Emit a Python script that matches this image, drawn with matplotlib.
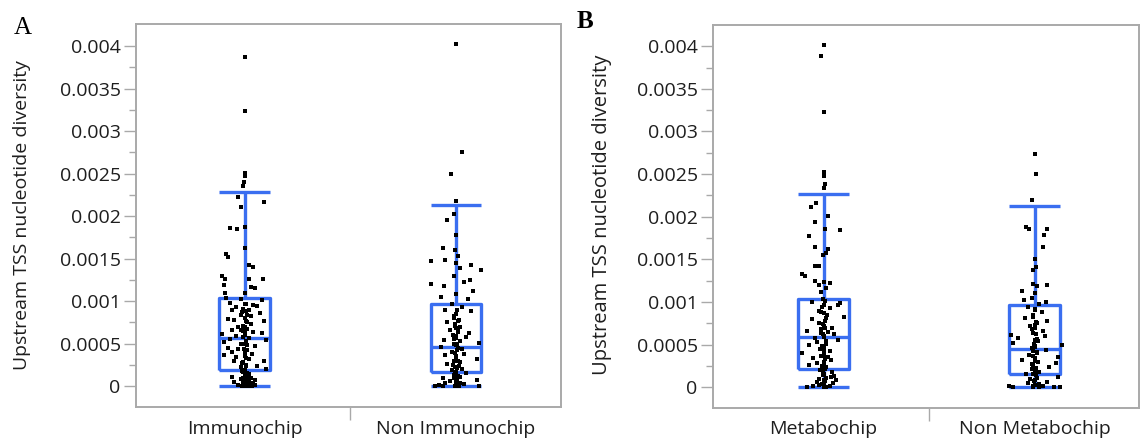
import numpy as np
import matplotlib
matplotlib.use("Agg")
import matplotlib.pyplot as plt

# values are in units of 1e-4 (nucleotide diversity), offsets are jitter in category units
immuno_pi = [38.7, 32.4, 25.1, 24.7, 24.0, 23.5, 22.2, 21.7, 21.1, 18.6, 18.5, 18.7, 16.2, 15.5, 15.2,
             14.2, 14.0, 12.9, 12.6, 12.6, 12.6, 11.9, 11.7, 11.5, 11.0, 10.9, 10.3, 10.2, 10.1,
             9.8, 9.6, 9.5, 9.4, 9.3, 9.0, 9.0, 8.8, 8.7, 8.6, 8.3, 8.2, 8.0, 7.9, 7.8, 7.6, 7.5, 7.3,
             7.0, 6.9, 6.6, 6.6, 6.5, 6.4, 6.2, 6.1, 6.0, 5.9, 5.7, 5.5, 5.4, 5.2, 5.0, 4.9, 4.7, 4.5,
             4.3, 4.2, 4.0, 3.8, 3.6, 3.5, 3.4, 3.2, 3.0, 2.9, 2.7, 2.5, 2.4, 2.2, 2.0, 1.9,
             1.6, 1.4, 1.3, 1.1, 1.0, 0.9, 0.8, 0.7, 0.6, 0.5, 0.45, 0.4, 0.35, 0.3, 0.25, 0.2, 0.15,
             0.12, 0.1, 0.08, 0.05, 0.03, 0.0, 0.0,
             9.7, 9.1, 8.4, 7.7, 7.1, 6.7, 6.3, 5.8, 5.3, 4.8, 4.4, 3.9, 3.3, 2.8, 2.3, 1.8, 1.5,
             1.2, 0.9, 0.6, 0.3, 0.1, 0.0]
immuno_jit = [0.0, 0.0, 0.0, 0.0, -0.005, -0.01, -0.03, 0.09, -0.02, -0.07, -0.035, 0.0, 0.0, -0.09, -0.08,
              0.02, 0.04, -0.11, -0.095, 0.02, 0.085, -0.1, 0.03, 0.05, -0.095, 0.0, -0.09, -0.02, 0.08,
              -0.07, 0.0, 0.04, 0.06, -0.04, -0.06, 0.02, 0.005, -0.015, 0.07, -0.02, 0.03, 0.0, -0.08, -0.05, 0.09, 0.01, 0.03,
              -0.03, 0.0, -0.06, -0.02, -0.01, 0.04, 0.08, -0.11, 0.0, -0.04, 0.02, -0.07, 0.1, -0.1, -0.02, 0.0, 0.05, -0.08,
              -0.03, 0.01, -0.06, 0.035, -0.1, 0.0, -0.04, 0.02, 0.09, -0.05, -0.015, 0.005, 0.06, -0.02, 0.1, 0.0,
              -0.01, 0.02, 0.0, -0.06, 0.03, 0.01, -0.02, 0.05, 0.0, 0.02, -0.05, 0.03, 0.01, 0.04, -0.01, 0.02, 0.05,
              -0.03, 0.0, 0.015, 0.035, -0.015, 0.01, 0.025,
              0.008, -0.006, 0.01, 0.004, -0.008, 0.012, 0.0, -0.01, 0.006, 0.01, -0.004, 0.0, 0.008, -0.008,
              0.004, -0.012, 0.01, 0.0, -0.006, 0.012, -0.008, 0.004, -0.004]

non_immuno_pi = [40.3, 27.5, 25.0, 21.8, 20.2, 19.5, 17.8, 16.3, 16.0, 15.3, 14.8, 14.7, 14.5, 14.2, 13.7,
                 13.9, 13.0, 12.5, 12.2, 12.0, 11.8, 11.2, 10.8, 10.5, 10.2, 9.7, 9.3, 8.9, 8.8, 8.5,
                 8.0, 7.8, 7.5, 7.3, 7.0, 6.8, 6.6, 6.4, 6.2, 6.0, 5.8, 5.6, 5.4, 5.3, 5.1, 5.0, 4.8,
                 4.6, 4.4, 4.2, 4.0, 3.8, 3.6, 3.4, 3.2, 3.0, 2.8, 2.6, 2.4, 2.2, 2.0, 1.9, 1.7, 1.5,
                 1.3, 1.1, 1.0, 0.8, 0.7, 0.6, 0.5, 0.4, 0.3, 0.25, 0.2, 0.15, 0.1, 0.05, 0.03, 0.0, 0.0,
                 9.0, 8.2, 7.6, 7.1, 6.5, 5.9, 5.5, 4.9, 4.5, 3.9, 3.5, 2.9, 2.5, 2.1, 1.6, 1.2, 0.9,
                 0.5, 0.2, 0.0]
non_immuno_jit = [0.0, 0.03, -0.025, 0.0, -0.01, -0.04, 0.0, -0.06, -0.005, 0.01, -0.05, -0.12, 0.0, 0.07, 0.12,
                  0.02, -0.01, 0.065, 0.04, -0.12, -0.055, 0.08, 0.0, -0.07, 0.055, -0.02, 0.03, -0.05, 0.07, 0.0,
                  -0.01, 0.015, -0.04, -0.005, 0.02, 0.0, -0.03, 0.01, 0.06, -0.015, 0.05, 0.0, -0.055, 0.02, 0.11, -0.01, 0.0,
                  -0.07, 0.03, 0.005, -0.02, 0.04, -0.05, 0.0, 0.1, -0.01, 0.02, -0.04, 0.015, -0.005, 0.03, -0.02, 0.0, 0.05,
                  -0.01, 0.02, -0.06, 0.005, 0.1, -0.03, 0.0, 0.02, -0.05, 0.01, 0.04, -0.08, 0.0, 0.11, -0.1, -0.06, 0.015,
                  0.006, -0.008, 0.01, -0.004, 0.008, 0.0, -0.01, 0.004, 0.012, -0.006, 0.0, 0.008, -0.012, 0.004,
                  -0.004, 0.01, -0.008, 0.006, 0.0, -0.006]

metabo_pi = [40.2, 38.8, 32.3, 25.2, 24.8, 23.8, 23.4, 21.6, 21.1, 20.1, 19.4, 18.6, 18.5, 17.8, 16.5,
             16.2, 15.8, 15.5, 14.2, 14.2, 13.3, 13.1, 12.5, 12.4, 12.2, 12.0, 11.7, 11.2, 10.3, 10.0,
             9.9, 9.7, 9.6, 9.3, 9.0, 8.8, 8.5, 8.2, 8.0, 7.8, 7.5, 7.2, 7.0, 6.8, 6.6, 6.5, 6.3, 6.2,
             6.0, 5.8, 5.5, 5.3, 5.1, 4.9, 4.7, 4.5, 4.2, 4.0, 3.8, 3.6, 3.4, 3.2, 3.0, 2.8, 2.6, 2.4,
             2.2, 2.0, 1.8, 1.6, 1.4, 1.3, 1.2, 1.0, 0.9, 0.7, 0.6, 0.5, 0.4, 0.3, 0.2, 0.1, 0.05, 0.0, 0.0,
             10.1, 9.4, 8.7, 8.1, 7.4, 6.9, 6.4, 5.9, 5.4, 4.8, 4.3, 3.7, 3.3, 2.9, 2.5, 2.1, 1.7,
             1.1, 0.8, 0.4, 0.0]
metabo_jit = [0.0, -0.01, 0.0, 0.0, 0.0, 0.005, 0.0, -0.035, -0.06, 0.02, -0.04, 0.005, 0.08, -0.07, -0.04,
              0.02, 0.01, -0.005, -0.02, -0.04, -0.1, -0.09, -0.04, 0.0, 0.03, -0.02, 0.01, -0.01, -0.005, -0.055,
              0.08, 0.07, 0.0, 0.03, -0.02, -0.01, 0.015, 0.095, -0.055, 0.005, -0.02, 0.0, 0.04, -0.01, -0.08, 0.02, -0.005, 0.05,
              0.0, -0.04, 0.07, -0.03, 0.01, -0.07, 0.0, -0.015, 0.03, -0.1, 0.0, 0.02, -0.05, 0.035, 0.0, -0.03, -0.07, 0.01,
              0.0, -0.015, 0.04, 0.0, -0.005, 0.05, 0.035, -0.02, 0.06, 0.005, -0.03, 0.045, 0.0, -0.02, 0.03, -0.05, 0.01, -0.08, 0.0,
              0.006, -0.008, 0.004, 0.01, -0.004, 0.008, -0.01, 0.0, 0.012, -0.006, 0.004, -0.012, 0.008, 0.0,
              -0.008, 0.006, -0.004, 0.01, 0.0, -0.006, 0.004]

non_metabo_pi = [27.4, 25.0, 22.0, 18.8, 18.6, 18.6, 17.9, 16.5, 15.0, 14.1, 13.8, 12.1, 12.0, 11.9, 11.3,
                 11.0, 10.5, 10.2, 10.0, 9.8, 9.4, 9.2, 8.8, 8.5, 8.1, 7.8, 7.5, 7.2, 7.0, 6.6, 6.4,
                 6.1, 6.0, 5.8, 5.6, 5.4, 5.2, 5.0, 4.8, 4.6, 4.4, 4.2, 4.0, 3.8, 3.6, 3.4, 3.2, 3.0,
                 2.8, 2.6, 2.4, 2.2, 2.0, 1.8, 1.6, 1.4, 1.2, 1.0, 0.8, 0.6, 0.5, 0.4, 0.3, 0.2, 0.15,
                 0.1, 0.05, 0.0, 0.0, 0.0,
                 9.1, 8.3, 7.7, 7.3, 6.8, 6.2, 5.7, 5.1, 4.7, 4.1, 3.7, 3.1, 2.7, 2.3, 1.9, 1.5, 1.1,
                 0.7, 0.3, 0.0]
non_metabo_jit = [0.0, 0.005, -0.01, -0.04, -0.025, 0.06, 0.045, 0.04, 0.0, 0.005, -0.005, -0.005, 0.06, 0.01, -0.06,
                  0.0, -0.01, -0.05, 0.055, 0.02, -0.03, 0.0, 0.035, -0.005, -0.045, 0.06, 0.01, -0.02, 0.0, 0.04, -0.005,
                  -0.11, 0.05, -0.08, 0.0, 0.015, -0.1, 0.13, 0.0, -0.01, 0.055, -0.005, 0.01, -0.025, 0.11, 0.0, -0.06, 0.015,
                  0.1, -0.005, 0.07, -0.01, 0.0, 0.02, -0.04, 0.005, 0.11, -0.02, 0.0, 0.06, -0.03, 0.02, 0.0, -0.12, 0.04,
                  -0.005, 0.09, -0.1, 0.12, 0.02,
                  0.004, -0.006, 0.008, 0.0, -0.01, 0.006, 0.012, -0.004, 0.0, 0.01, -0.008, 0.004, -0.012, 0.008,
                  0.0, -0.006, 0.01, -0.004, 0.006, -0.008]

# box summaries (q1, median, q3, whisker low, whisker high)
immuno_box = (0.000188, 0.000568, 0.00104, 0.0, 0.00228)
non_immuno_box = (0.000168, 0.000462, 0.00096, 0.0, 0.00213)
metabo_box = (0.00022, 0.00059, 0.00104, 0.0, 0.00227)
non_metabo_box = (0.00016, 0.000453, 0.00096, 0.0, 0.00213)

y_ticks = [0, 0.0005, 0.001, 0.0015, 0.002, 0.0025, 0.003, 0.0035, 0.004]
y_labels = ["0", "0.0005", "0.001", "0.0015", "0.002", "0.0025", "0.003", "0.0035", "0.004"]

BLUE = "#3a6ef0"
GREY = "#a9a9a9"
TXT = "#1e1e1e"

fig = plt.figure(figsize=(11.41, 4.44), dpi=100)
ax_a = fig.add_axes([0.1192, 0.0833, 0.3729, 0.8626])
ax_b = fig.add_axes([0.6249, 0.0811, 0.3733, 0.8626])


def draw_panel(ax, groups, names, ylim, xlim):
    stats = []
    for box in [g[2] for g in groups]:
        q1, med, q3, lo, hi = box
        stats.append(dict(q1=q1, med=med, q3=q3, whislo=lo, whishi=hi, fliers=[]))
    lp = dict(color=BLUE, linewidth=2.4, solid_capstyle="butt")
    ax.bxp(stats, positions=[0, 1], widths=0.24, capwidths=0.24, showfliers=False,
           boxprops=lp, whiskerprops=lp, capprops=lp, medianprops=lp, manage_ticks=False)
    for i, (vals, jit, _) in enumerate(groups):
        ax.plot(i + np.array(jit), np.array(vals) * 1e-4, "s", color="black",
                ms=2.7, mew=0, zorder=5)

    ax.set_xlim(*xlim)
    ax.set_ylim(*ylim)
    ax.set_yticks(y_ticks)
    ax.set_yticklabels(y_labels)
    ax.set_yticks(np.arange(0.00025, 0.0042, 0.0005), minor=True)
    ax.tick_params(axis="y", which="major", length=9, width=1, color=GREY,
                   labelsize=14, labelcolor=TXT, pad=2)
    ax.tick_params(axis="y", which="minor", length=5, width=1, color=GREY)
    ax.set_xticks([0, 1])
    ax.set_xticklabels(names)
    ax.set_xticks([0.5], minor=True)
    ax.tick_params(axis="x", which="major", length=0, labelsize=14, labelcolor=TXT, pad=9)
    ax.tick_params(axis="x", which="minor", length=9, width=1, color=GREY)
    for s in ax.spines.values():
        s.set_color(GREY)
        s.set_linewidth(1.4)
    for lab in ax.get_xticklabels() + ax.get_yticklabels():
        lab.set_family("Open Sans")


draw_panel(ax_a,
           [(immuno_pi, immuno_jit, immuno_box), (non_immuno_pi, non_immuno_jit, non_immuno_box)],
           ["Immunochip", "Non Immunochip"], (-0.000247, 0.00426), (-0.515, 1.5))
draw_panel(ax_b,
           [(metabo_pi, metabo_jit, metabo_box), (non_metabo_pi, non_metabo_jit, non_metabo_box)],
           ["Metabochip", "Non Metabochip"], (-0.000243, 0.004249), (-0.524, 1.495))

fig.text(22 / 1141, 1 - 215 / 444, "Upstream TSS nucleotide diversity", rotation=90,
         ha="center", va="center", fontsize=14, color=TXT, family="Open Sans")
fig.text(602 / 1141, 1 - 215 / 444, "Upstream TSS nucleotide diversity", rotation=90,
         ha="center", va="center", fontsize=14.5, color=TXT, family="Open Sans")

fig.text(14 / 1141, 1 - 34 / 444, "A", fontsize=18, family="Liberation Serif", color="black")
fig.text(577 / 1141, 1 - 28 / 444, "B", fontsize=18, family="Liberation Serif",
         weight="bold", color="black")

fig.savefig("out.png", dpi=100)
